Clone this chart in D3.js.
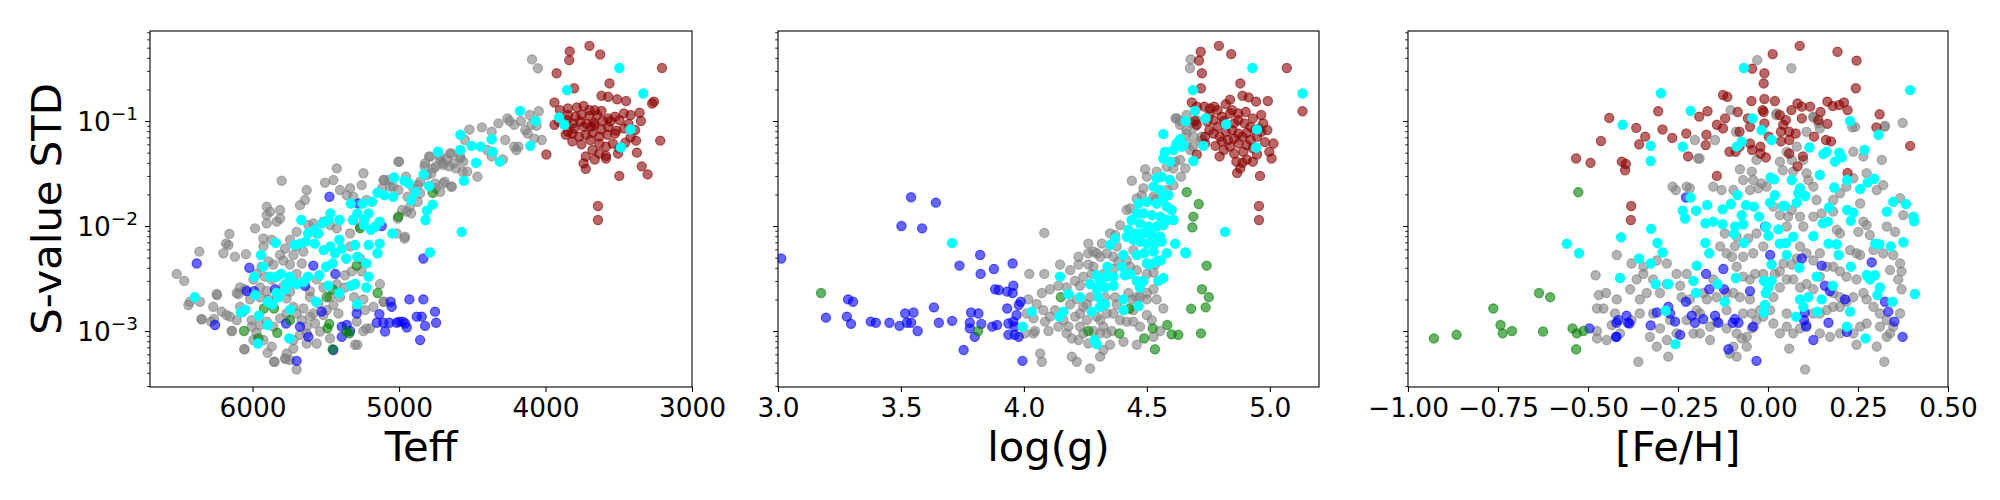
<!DOCTYPE html>
<html>
<head>
<meta charset="utf-8">
<script src="https://cdn.jsdelivr.net/npm/d3@7"></script>
<style>
  body { margin: 0; background: #fff; }
  svg { display: block; font-family: "DejaVu Sans", sans-serif; }
</style>
</head>
<body>
<svg id="chart" width="2000" height="500"></svg>
<script>
// tick values and axis ranges
const teffTicks = [6000, 5000, 4000, 3000];
const loggTicks = [3.0, 3.5, 4.0, 4.5, 5.0];
const fehTicks = [-1.0, -0.75, -0.5, -0.25, 0.0, 0.25, 0.5];
const teffRange = [6700, 3000];
const loggRange = [3.0, 5.2];
const fehRange = [-1.0, 0.5];
const sRange = [2.93e-4, 0.72];

// ---- panel 1: [Teff, S-value STD] ----
const teffGray = [
  [4092,0.386],[4052,0.318],[4046,0.124],[4107,0.114],[4138,0.082],[4098,0.092],[4061,0.09],[4025,0.066],[4077,0.068],[4122,0.076],
  [4184,0.057],[4199,0.053],[4245,0.1],[4260,0.106],[4275,0.066],[4321,0.095],[4367,0.079],[4214,0.092],[4168,0.1],[4434,0.087],
  [4520,0.083],[4550,0.066],[4581,0.046],[4642,0.049],[4673,0.043],[4703,0.04],[4719,0.046],[4795,0.046],[4749,0.037],[4658,0.037],
  [4612,0.0354],[4535,0.033],[4465,0.0295],[4688,0.0264],[4749,0.0229],[4719,0.0212],[4642,0.0237],[4856,0.0205],[4942,0.019],[4872,0.017],
  [4979,0.0142],[4917,0.0132],[4963,0.0076],[5009,0.0118],[5000,0.041],[5070,0.0274],[5101,0.0274],[5116,0.0229],[5040,0.0237],[4291,0.043],
  [4367,0.046],[4398,0.053],[4214,0.057],[4826,0.037],[4780,0.0318],[4566,0.033],[4872,0.0245],
  [5004,0.041],[4788,0.0457],[4720,0.0426],[4652,0.0492],[4583,0.044],[4822,0.0395],[4765,0.0354],[4697,0.0381],[4629,0.0395],[4561,0.041],
  [4952,0.0295],[5107,0.0274],[5004,0.022],[5061,0.0237],[4902,0.0229],[4754,0.0255],[4697,0.0255],[4640,0.0237],[4811,0.0306],[4856,0.0264],
  [4925,0.0153],[4947,0.0137],[4959,0.0079],[5016,0.0085],[5243,0.0318],[5255,0.0245],[5334,0.0229],[5403,0.022],[5357,0.0197],[5312,0.019],
  [5221,0.0177],[5425,0.0354],[5448,0.0274],[5505,0.0259],[5630,0.022],[5642,0.0177],[5676,0.0158],[5801,0.027],[5903,0.0153],[5881,0.0137],
  [5812,0.0142],[5903,0.0127],[5812,0.0118],[5835,0.011],[5903,0.0106],[5983,0.0095],[6158,0.0084],[6181,0.0068],[6165,0.0066],[6199,0.0055],
  [6120,0.0051],[6045,0.0054],[6363,0.0057],[6518,0.0035],[6466,0.003],[6427,0.0019],[6359,0.0019],[6438,0.00177],[6245,0.00225],[6268,0.0017],
  [6211,0.00153],[6347,0.00129],[6283,0.00123],[6142,0.001],[6097,0.00225],[6051,0.0025],[5926,0.0076],[5926,0.0064],[5869,0.0074],[5778,0.0061],
  [5744,0.0074],[5699,0.0088],[5619,0.0102],[5585,0.0106],[5562,0.0085],[5516,0.011],[5471,0.0102],[5425,0.0095],[5334,0.0085],[5266,0.0099],
  [5334,0.0064],[5266,0.0049],[5323,0.0037],[5369,0.0034],[5255,0.0037],[5307,0.0021],[5243,0.002],[5232,0.00158],[5107,0.0019],[5198,0.00106],
  [5243,0.001],[5300,0.00074],[5289,0.00123],[5414,0.00147],[5494,0.00158],[5551,0.00183],[5608,0.0021],[5653,0.00164],[5699,0.00147],[5664,0.00127],
  [5630,0.0011],[5573,0.00118],[5539,0.00099],[5471,0.00085],[5562,0.00076],[5630,0.00076],[5676,0.00092],[5721,0.00082],[5721,0.00068],[5767,0.00061],
  [5744,0.00053],[5699,0.00043],[5778,0.00055],[5853,0.00051],[5897,0.00062],[5869,0.00071],[5926,0.00082],[5994,0.00082],[6056,0.00067],[5972,0.00096],
  [6006,0.0011],[6006,0.00127],[5949,0.00114],[5903,0.00123],[5858,0.0011],[5812,0.00132],[5767,0.00147],[5721,0.0017],[5767,0.00205],[5835,0.0021],
  [5892,0.002],[5949,0.0021],[6017,0.002],[6085,0.0017],[6108,0.00127],[6154,0.00137],[6177,0.00142],[5790,0.00264],[5744,0.00237],[5699,0.0035],
  [5744,0.0043],[5790,0.0047],[5721,0.0053],[5664,0.0044],[5653,0.0057],[5699,0.0064],[5812,0.0053],[5858,0.0043],[5892,0.0046],[5938,0.0041],
  [5972,0.0035],[5915,0.0033],[5869,0.0031],[5835,0.0033],[5949,0.0026],[5903,0.0024],[5994,0.0031],[6085,0.0026],[6108,0.0023],[5562,0.0031],
  [5516,0.0026],[5608,0.0024],[5471,0.0021],[5403,0.0021],[5369,0.0026],[5300,0.0028],[5425,0.0028],[5448,0.00177],[5516,0.00142],[5585,0.00147],
  [5608,0.00137],[5630,0.00095],[5289,0.0017],[5130,0.0028],[5175,0.0017],[6055,0.00067],[5850,0.00051],[5774,0.00054],[5284,0.00074],[5223,0.00106],
  [5101,0.0019],[6141,0.001],[6242,0.0022],[6349,0.0013],[6263,0.0013]
];
const teffBlue = [
  [6381,0.0044],[5475,0.019],[6022,0.004],[5585,0.0042],[5435,0.0035],[5277,0.0164],[5118,0.01],[4834,0.0049],[6040,0.0024],[5847,0.0025],
  [5642,0.0027],[6067,0.00153],[6256,0.00114],[5771,0.00118],[5676,0.0011],[5528,0.00153],[5619,0.00088],[5699,0.00052],[5448,0.00066],[5391,0.0011],
  [5357,0.00114],[5391,0.00088],[5289,0.00147],[5134,0.00145],[5057,0.0019],[5050,0.0017],[4929,0.002],[4834,0.002],[5152,0.0012],[5107,0.0012],
  [5066,0.0012],[5016,0.0012],[4975,0.00123],[4959,0.00118],[4947,0.00108],[5095,0.00099],[4879,0.00137],[4845,0.00137],[4822,0.00112],[4754,0.00153],
  [4747,0.0012],[4856,0.00082],[4998,0.00123],[5990,0.0024],[5334,0.001]
];
const teffGreen = [
  [5289,0.0042],[5146,0.0023],[5453,0.0025],[5494,0.0021],[5922,0.00164],[5853,0.00164],[6058,0.001],[5831,0.00096],[5489,0.00106],[5476,0.00117],
  [5357,0.00099],[5339,0.00095],[5004,0.0123],[4770,0.0207],[5266,0.0095],[5960,0.00085],[5744,0.00127],[5453,0.00067]
];
const teffDarkred = [
  [3700,0.52],[3835,0.46],[3627,0.43],[3838,0.38],[3924,0.285],[3205,0.32],[3804,0.205],[3563,0.228],[3618,0.174],[3572,0.17],
  [3511,0.161],[3450,0.155],[3939,0.15],[3260,0.153],[3272,0.147],[3902,0.127],[3847,0.132],[3786,0.135],[3740,0.139],[3700,0.127],
  [3664,0.127],[3618,0.125],[3847,0.114],[3795,0.11],[3755,0.114],[3700,0.112],[3648,0.114],[3572,0.106],[3526,0.11],[3465,0.118],
  [3419,0.114],[3358,0.12],[3908,0.099],[3853,0.102],[3810,0.095],[3762,0.099],[3719,0.094],[3670,0.096],[3609,0.1],[3557,0.099],
  [3496,0.102],[3434,0.094],[3349,0.1],[3939,0.092],[3847,0.079],[3804,0.085],[3740,0.088],[3688,0.088],[3664,0.092],[3618,0.083],
  [3572,0.088],[3517,0.081],[3465,0.085],[3388,0.082],[3862,0.074],[3817,0.076],[3771,0.071],[3725,0.074],[3679,0.077],[3633,0.071],
  [3578,0.074],[3526,0.076],[3419,0.07],[3817,0.064],[3755,0.06],[3694,0.066],[3633,0.061],[3587,0.057],[3541,0.061],[3496,0.055],
  [3456,0.062],[3382,0.065],[3217,0.065],[3994,0.048],[3725,0.046],[3679,0.053],[3633,0.049],[3587,0.0465],[3505,0.049],[3376,0.05],
  [3740,0.0395],[3725,0.035],[3664,0.043],[3587,0.044],[3343,0.037],[3496,0.03],[3303,0.031],[3642,0.0155],[3642,0.0114]
];
const teffCyan = [
  [3496,0.32],[3333,0.183],[3853,0.197],[4174,0.125],[4067,0.1],[3908,0.108],[3872,0.092],[3419,0.083],[3486,0.056],[4104,0.058],
  [4367,0.067],[4361,0.051],[4312,0.041],[4581,0.074],[4505,0.058],[4443,0.057],[4474,0.04],[4581,0.053],[4734,0.051],[4832,0.031],
  [4557,0.027],[4795,0.024],[4771,0.016],[4810,0.014],[4820,0.0114],[4572,0.0088],[4789,0.0056],[5034,0.029],[4963,0.027],[4933,0.0255],
  [4887,0.021],[4917,0.0177],[5040,0.019],[5101,0.0197],[5147,0.0208],[5184,0.017],[5208,0.0132],[5132,0.011],[5162,0.0099],[5239,0.0102],
  [5239,0.0114],[5193,0.0092],[5046,0.0085],[5132,0.0068],[5147,0.0055],[5208,0.0066],[5223,0.0044],[5248,0.0164],[5284,0.0132],[5315,0.0114],
  [5330,0.0164],[5407,0.0114],[5468,0.0132],[5483,0.0114],[5523,0.0106],[5550,0.0085],[5575,0.0092],[5621,0.0085],[5667,0.0114],[5676,0.0068],
  [5713,0.0066],[5636,0.0071],[5575,0.0068],[5514,0.0059],[5468,0.0064],[5437,0.0055],[5407,0.0074],[5391,0.0061],[5361,0.0049],[5300,0.0066],
  [5284,0.0051],[5453,0.0044],[5498,0.0041],[5544,0.0034],[5621,0.0033],[5651,0.00295],[5697,0.0028],[5743,0.0033],[5774,0.0028],[5804,0.0035],
  [5835,0.0033],[5881,0.0033],[5927,0.0041],[5942,0.0053],[5841,0.0069],[5988,0.0033],[5774,0.0025],[5728,0.0029],[5835,0.0023],[5865,0.0018],
  [5820,0.0021],[5896,0.0019],[5982,0.0022],[6049,0.0016],[6080,0.0015],[5957,0.0014],[5896,0.00114],[5743,0.0016],[5749,0.00085],[5963,0.00076],
  [6394,0.0021],[5407,0.0023],[5300,0.0028],[5223,0.0026],[5208,0.0033],[5284,0.0018],[5566,0.0019],[5483,0.0027],[5330,0.0027]
];

// ---- panel 2: [log(g), S-value STD] ----
const loggGray = [
  [4.622,0.106],[4.662,0.114],[4.635,0.092],[4.683,0.095],[4.703,0.102],[4.662,0.076],[4.689,0.071],[4.723,0.071],[4.717,0.0636],[4.662,0.061],
  [4.676,0.053],[4.635,0.0426],[4.656,0.0354],[4.608,0.0354],[4.615,0.041],[4.581,0.0367],[4.493,0.0347],[4.5,0.0295],[4.54,0.033],[4.439,0.027],
  [4.486,0.0229],[4.608,0.0245],[4.639,0.0295],[4.527,0.019],[4.581,0.022],[4.432,0.0147],[4.418,0.0142],[4.459,0.0183],[4.479,0.0197],[4.391,0.0102],
  [4.371,0.0082],[4.35,0.0085],[4.317,0.0068],[4.296,0.0055],[4.283,0.0057],[4.337,0.0055],[4.364,0.0051],[4.384,0.0046],[4.418,0.0047],[4.432,0.0041],
  [4.459,0.0038],[4.5,0.0035],[4.527,0.0036],[4.534,0.0043],[4.445,0.0059],[4.378,0.0064],[4.31,0.0051],[4.262,0.0068],[4.222,0.0043],[4.262,0.0043],
  [4.147,0.0043],[4.188,0.0038],[4.242,0.0033],[4.208,0.003],[4.174,0.0026],[4.228,0.0027],[4.283,0.0041],[4.14,0.0027],[4.106,0.0025],[4.073,0.0023],
  [4.018,0.002],[4.011,0.00147],[4.039,0.00132],[4.079,0.00158],[4.052,0.0018],[4.086,0.00123],[4.106,0.00137],[4.127,0.00158],[4.14,0.0011],[4.174,0.00095],
  [4.188,0.0018],[4.208,0.00137],[4.228,0.0011],[4.242,0.00095],[4.262,0.00076],[4.222,0.00082],[4.195,0.00085],[4.31,0.00127],[4.323,0.0011],[4.337,0.00095],
  [4.357,0.001],[4.31,0.00095],[4.283,0.001],[4.296,0.00137],[4.256,0.00127],[4.242,0.0017],[4.228,0.00147],[4.337,0.00147],[4.364,0.00147],[4.378,0.0018],
  [4.391,0.00127],[4.418,0.00123],[4.445,0.00123],[4.459,0.0021],[4.5,0.002],[4.54,0.002],[4.567,0.00164],[4.445,0.00158],[4.5,0.00142],[4.52,0.00127],
  [4.554,0.001],[4.527,0.00088],[4.472,0.0011],[4.459,0.00074],[4.405,0.00079],[4.35,0.00074],[4.323,0.00066],[4.31,0.00057],[4.269,0.00044],[4.215,0.00051],
  [4.195,0.00057],[4.066,0.00061],[4.073,0.00051],[4.039,0.00095],[4.005,0.00095],[4.083,0.0086],[4.022,0.0035],[4.083,0.0035],[4.222,0.0051],[4.262,0.0055],
  [4.045,0.001],[4.1,0.001],[4.161,0.00127],[4.181,0.0011],[4.269,0.0021],[4.256,0.0018],[4.215,0.002],[4.33,0.0021],[4.371,0.0021],[4.425,0.0023],
  [4.5,0.0023],[4.527,0.0025],[4.276,0.0035],[4.323,0.0035],[4.364,0.0039],[4.472,0.0021],[4.439,0.002],[4.678,0.386],[4.675,0.318],[4.616,0.106],
  [4.636,0.1],[4.661,0.082],[4.695,0.088],[4.725,0.066],[4.687,0.057],[4.535,0.018]
];
const loggBlue = [
  [3.013,0.0049],[3.541,0.0188],[3.642,0.0167],[3.502,0.01],[3.586,0.0095],[3.822,0.0053],[3.738,0.0042],[3.824,0.0035],[3.878,0.0039],[3.954,0.0044],
  [3.883,0.0025],[3.898,0.00246],[3.932,0.00237],[3.957,0.0027],[3.954,0.0023],[3.285,0.002],[3.305,0.0019],[3.195,0.00134],[3.28,0.00137],[3.297,0.00117],
  [3.377,0.00123],[3.398,0.0012],[3.453,0.0012],[3.494,0.00112],[3.517,0.00147],[3.551,0.0015],[3.524,0.0012],[3.541,0.0012],[3.568,0.001],[3.634,0.00168],
  [3.654,0.0012],[3.708,0.00125],[3.785,0.0015],[3.815,0.00147],[3.78,0.0012],[3.78,0.00106],[3.827,0.00117],[3.8,0.00088],[3.871,0.0011],[3.891,0.00114],
  [3.932,0.00164],[3.979,0.00177],[3.987,0.0019],[3.97,0.00142],[3.937,0.00118],[3.957,0.00123],[3.962,0.00092],[3.979,0.00088],[3.755,0.00066],[3.994,0.00052],
  [3.937,0.00092],[3.962,0.0011]
];
const loggGreen = [
  [3.175,0.0023],[3.814,0.001],[4.662,0.021],[4.711,0.0162],[4.689,0.0123],[4.685,0.0097],[4.743,0.0042],[4.724,0.0025],[4.752,0.0021],[4.68,0.00163],
  [4.739,0.00168],[4.583,0.00114],[4.601,0.00093],[4.628,0.00092],[4.72,0.00095],[4.524,0.00106],[4.489,0.00085],[4.533,0.00067],[4.388,0.00095],[4.429,0.00163],
  [4.262,0.001],[4.15,0.0021]
];
const loggDarkred = [
  [4.793,0.52],[4.719,0.457],[4.843,0.434],[4.712,0.376],[4.724,0.285],[5.069,0.32],[4.72,0.205],[4.88,0.228],[4.889,0.174],[4.914,0.168],
  [4.944,0.153],[4.992,0.155],[4.683,0.15],[5.133,0.124],[4.703,0.137],[4.734,0.137],[4.757,0.132],[4.788,0.127],[4.821,0.145],[4.847,0.127],
  [4.872,0.118],[4.902,0.122],[4.931,0.106],[4.973,0.095],[4.703,0.092],[4.746,0.099],[4.771,0.102],[4.805,0.11],[4.838,0.118],[4.872,0.102],
  [4.897,0.095],[4.922,0.088],[4.956,0.085],[4.99,0.082],[4.771,0.076],[4.796,0.071],[4.821,0.079],[4.847,0.082],[4.872,0.076],[4.889,0.071],
  [4.906,0.077],[4.948,0.071],[5.015,0.061],[4.737,0.061],[4.779,0.058],[4.805,0.064],[4.838,0.057],[4.872,0.061],[4.906,0.059],[4.931,0.055],
  [4.998,0.051],[5.007,0.044],[4.703,0.048],[4.796,0.046],[4.855,0.049],[4.889,0.04],[4.906,0.043],[4.931,0.041],[4.88,0.0354],[4.867,0.032],
  [4.96,0.03],[4.956,0.0155],[4.956,0.0114],[4.754,0.114],[4.813,0.1],[4.855,0.095],[4.83,0.066],[4.855,0.068],[4.922,0.066],[4.813,0.053],
  [4.948,0.048],[4.754,0.082],[4.695,0.1],[4.965,0.114],[4.838,0.16],[4.864,0.041],[4.737,0.071],[4.94,0.082],[4.98,0.063],[4.788,0.088],
  [4.892,0.051],[4.774,0.137],[4.965,0.079]
];
const loggCyan = [
  [4.696,0.125],[4.739,0.106],[4.658,0.1],[4.823,0.093],[4.948,0.083],[4.944,0.056],[4.567,0.075],[4.73,0.058],[4.689,0.0416],[4.635,0.067],
  [4.621,0.061],[4.649,0.059],[4.608,0.053],[4.574,0.051],[4.567,0.044],[4.594,0.041],[4.642,0.057],[4.54,0.0285],[4.56,0.0295],[4.594,0.0274],
  [4.527,0.0237],[4.554,0.022],[4.567,0.0183],[4.588,0.0197],[4.466,0.0164],[4.5,0.017],[4.54,0.0164],[4.581,0.0153],[4.601,0.0142],[4.459,0.0132],
  [4.486,0.0132],[4.52,0.0127],[4.554,0.0123],[4.581,0.0114],[4.608,0.0114],[4.438,0.0114],[4.472,0.0106],[4.506,0.0099],[4.54,0.0099],[4.567,0.0102],
  [4.425,0.0092],[4.459,0.0085],[4.486,0.0085],[4.52,0.0082],[4.554,0.0079],[4.418,0.0079],[4.445,0.0074],[4.472,0.0071],[4.5,0.0068],[4.533,0.0068],
  [4.56,0.0071],[4.371,0.0076],[4.35,0.0066],[4.405,0.0053],[4.459,0.0053],[4.489,0.0055],[4.527,0.0057],[4.556,0.0047],[4.581,0.0055],[4.615,0.0068],
  [4.659,0.0055],[4.818,0.0088],[4.398,0.0041],[4.34,0.0041],[4.296,0.0034],[4.337,0.0033],[4.364,0.0033],[4.31,0.003],[4.269,0.0028],[4.296,0.0025],
  [4.33,0.0026],[4.364,0.0027],[4.411,0.0034],[4.434,0.0035],[4.459,0.003],[4.472,0.0026],[4.486,0.003],[4.547,0.003],[4.567,0.0032],[4.303,0.0021],
  [4.33,0.0018],[4.31,0.0017],[4.276,0.00153],[4.228,0.0021],[4.181,0.00225],[4.147,0.0033],[4.161,0.00153],[4.144,0.00137],[4.032,0.00153],[3.995,0.0011],
  [4.405,0.002],[4.405,0.00158],[4.466,0.00173],[4.287,0.00082],[4.296,0.00075],[4.5,0.0044],[4.513,0.0043],[4.54,0.0046],[4.929,0.32],[5.133,0.183],
  [4.687,0.197],[4.656,0.0056],[3.708,0.0069]
];

// ---- panel 3: [[Fe/H], S-value STD] ----
const fehGray = [
  [0.024,0.118],[0.126,0.11],[0.14,0.095],[0.107,0.079],[0.144,0.085],[0.242,0.088],[0.325,0.09],[0.374,0.096],[0.316,0.0426],[0.237,0.051],
  [0.265,0.046],[0.08,0.057],[0.052,0.051],[0.033,0.041],[0.066,0.0426],[0.098,0.0426],[0.107,0.0318],[0.07,0.033],[0.041,0.034],[-0.032,0.0426],
  [-0.045,0.033],[-0.078,0.0347],[-0.069,0.0274],[-0.041,0.0274],[-0.018,0.0255],[-0.05,0.022],[-0.027,0.0229],[-0.004,0.0237],[-0.096,0.022],[-0.129,0.022],
  [-0.152,0.0237],[-0.217,0.0229],[-0.265,0.0237],[-0.256,0.022],[-0.226,0.0237],[-0.194,0.044],[-0.147,0.066],[-0.203,0.066],[-0.089,0.079],[0.015,0.0153],
  [0.033,0.0127],[0.056,0.0123],[0.066,0.0142],[0.052,0.0099],[0.089,0.0123],[0.098,0.0099],[0.126,0.0123],[0.149,0.0132],[0.135,0.0177],[0.126,0.0237],
  [0.112,0.0274],[0.2,0.0205],[0.218,0.0237],[0.237,0.0285],[0.274,0.0318],[0.302,0.022],[0.32,0.0245],[0.367,0.0184],[0.376,0.0127],[0.353,0.0088],
  [0.33,0.0099],[0.274,0.0102],[0.256,0.0164],[0.181,0.0177],[0.181,0.0137],[0.191,0.0092],[0.2,0.0085],[0.251,0.0088],[0.265,0.011],[0.283,0.0082],
  [0.293,0.0059],[0.32,0.0055],[0.348,0.0053],[0.367,0.0044],[0.371,0.0037],[0.339,0.0038],[0.256,0.0053],[0.246,0.0055],[0.228,0.0059],[0.144,0.0055],
  [0.126,0.0047],[0.107,0.0055],[0.089,0.0064],[0.08,0.0049],[0.066,0.0043],[0.043,0.0044],[0.033,0.0037],[0.019,0.0035],[-0.013,0.0035],[-0.036,0.0035],
  [-0.05,0.0031],[-0.069,0.0033],[-0.087,0.0041],[-0.1,0.0051],[-0.115,0.0055],[-0.092,0.0064],[-0.069,0.0051],[-0.041,0.0055],[-0.013,0.0064],[-0.032,0.0085],
  [-0.055,0.0076],[-0.087,0.0079],[-0.12,0.0085],[-0.133,0.0064],[-0.152,0.0031],[-0.18,0.0023],[-0.217,0.002],[-0.24,0.0021],[-0.244,0.0027],[-0.226,0.0035],
  [-0.254,0.0035],[-0.281,0.0044],[-0.309,0.0047],[-0.346,0.0035],[-0.365,0.0031],[-0.383,0.0025],[-0.42,0.002],[-0.425,0.00147],[-0.434,0.00114],[-0.448,0.00082],
  [-0.411,0.00095],[-0.379,0.00127],[-0.356,0.00147],[-0.319,0.00147],[-0.3,0.00106],[-0.328,0.00088],[-0.281,0.00082],[-0.226,0.00127],[-0.207,0.00095],[-0.189,0.00095],
  [-0.161,0.0011],[-0.143,0.00123],[-0.115,0.00106],[-0.087,0.00095],[-0.073,0.00085],[-0.059,0.00088],[-0.045,0.00106],[-0.032,0.00127],[-0.013,0.00137],[0.015,0.00118],
  [0.033,0.00095],[0.052,0.0011],[0.07,0.00095],[0.089,0.00106],[0.107,0.00114],[0.126,0.00147],[0.144,0.00147],[0.163,0.00158],[0.181,0.0017],[0.2,0.0017],
  [0.218,0.0019],[0.237,0.0021],[0.265,0.0023],[0.274,0.002],[0.293,0.0017],[0.311,0.00147],[0.33,0.00127],[0.348,0.0011],[0.367,0.00147],[0.371,0.0025],
  [0.362,0.0031],[0.339,0.00095],[0.311,0.0011],[0.274,0.00118],[0.256,0.0011],[0.237,0.00095],[0.2,0.00095],[0.172,0.00088],[0.144,0.00095],[0.052,0.00147],
  [0.006,0.00158],[-0.022,0.00158],[-0.045,0.00147],[-0.069,0.00147],[-0.096,0.00071],[-0.087,0.00057],[-0.106,0.00061],[-0.059,0.00071],[-0.161,0.00082],[-0.189,0.00147],
  [-0.115,0.00158],[-0.17,0.002],[-0.198,0.00158],[-0.272,0.00127],[-0.254,0.00095],[0.015,0.0021],[0.033,0.0026],[0.052,0.0031],[0.07,0.0031],[0.089,0.0026],
  [0.107,0.0028],[0.126,0.0025],[0.181,0.0041],[0.2,0.0037],[0.218,0.0033],[0.246,0.0031],[0.181,0.0023],[0.2,0.0021],[0.163,0.0041],[0.144,0.0033],
  [-0.05,0.002],[-0.078,0.0021],[-0.096,0.0023],[-0.115,0.0023],[-0.143,0.0021],[-0.319,0.0031],[-0.3,0.0023],[-0.281,0.0028],[-0.356,0.002],[-0.337,0.0023],
  [-0.42,0.0053],[-0.379,0.0044],[-0.346,0.0041],[-0.45,0.0023],[-0.457,0.00164],[-0.36,0.00051],[-0.277,0.00057],[-0.309,0.00071],[0.059,0.00068],[0.103,0.00043],
  [0.246,0.00074],[0.323,0.00051],[0.33,0.00088],[0.302,0.00071],[-0.479,0.0034],[-0.475,0.00164],[-0.475,0.001],[-0.475,0.00085],[-0.47,0.0022],[-0.03,0.38],
  [0.065,0.318],[-0.104,0.127],[0.023,0.114],[0.324,0.088],[0.234,0.087],[0.126,0.108],[-0.19,0.044]
];
const fehBlue = [
  [-0.228,0.0187],[-0.008,0.0099],[0.006,0.0053],[0.094,0.0049],[0.149,0.0042],[0.288,0.0045],[-0.124,0.0039],[-0.172,0.0035],[-0.163,0.0025],[-0.122,0.0025],
  [-0.05,0.0024],[-0.228,0.0019],[-0.277,0.0017],[-0.272,0.00147],[-0.258,0.00123],[-0.309,0.0015],[-0.416,0.00127],[-0.393,0.0014],[-0.385,0.00118],[-0.326,0.00113],
  [-0.244,0.00092],[-0.422,0.00088],[-0.212,0.0014],[-0.203,0.0012],[-0.18,0.0013],[-0.147,0.0014],[-0.138,0.0012],[-0.098,0.0012],[-0.082,0.0012],[-0.11,0.00067],
  [-0.092,0.0013],[-0.041,0.0011],[-0.032,0.00052],[0.158,0.0027],[0.172,0.0024],[0.1,0.00127],[0.106,0.0011],[0.126,0.00082],[0.168,0.0012],[0.214,0.002],
  [0.219,0.00098],[0.325,0.0019],[0.334,0.00153],[0.351,0.00123],[0.374,0.00088],[0.102,0.0015],[-0.496,0.00106],[-0.421,0.0012],[-0.421,0.00088],[-0.389,0.0012]
];
const fehGreen = [
  [-0.527,0.021],[-0.636,0.0023],[-0.605,0.0021],[-0.763,0.00164],[-0.743,0.00114],[-0.737,0.00095],[-0.711,0.001],[-0.625,0.00099],[-0.543,0.00106],[-0.531,0.00095],
  [-0.513,0.001],[-0.533,0.00067],[-0.928,0.00085],[-0.865,0.00092]
];
const fehDarkred = [
  [0.088,0.52],[0.013,0.434],[0.193,0.457],[0.246,0.376],[-0.044,0.315],[-0.01,0.285],[-0.012,0.228],[0.244,0.205],[-0.441,0.107],[-0.305,0.124],
  [-0.464,0.0645],[-0.533,0.044],[-0.493,0.04],[-0.406,0.041],[-0.395,0.039],[-0.397,0.034],[-0.38,0.0155],[-0.381,0.0114],[-0.366,0.086],[-0.341,0.071],
  [-0.358,0.06],[-0.293,0.083],[-0.266,0.069],[-0.227,0.076],[-0.222,0.046],[-0.171,0.074],[-0.173,0.059],[-0.168,0.124],[-0.191,0.11],[-0.125,0.177],
  [-0.113,0.17],[-0.142,0.092],[-0.119,0.106],[-0.125,0.085],[-0.084,0.122],[-0.056,0.106],[-0.046,0.155],[-0.01,0.162],[0.019,0.155],[-0.015,0.127],
  [-0.012,0.122],[-0.05,0.088],[-0.079,0.079],[-0.01,0.095],[0.033,0.114],[0.05,0.102],[0.065,0.127],[0.082,0.147],[0.094,0.137],[0.042,0.092],
  [0.059,0.079],[0.077,0.076],[0.117,0.137],[0.146,0.122],[0.165,0.153],[0.18,0.139],[0.198,0.142],[0.211,0.15],[0.221,0.127],[0.165,0.094],
  [0.128,0.071],[0.161,0.066],[0.175,0.064],[0.31,0.116],[0.301,0.087],[0.395,0.058],[0.221,0.032],[-0.142,0.03],[0.082,0.037],[0.097,0.046],
  [0.059,0.049],[-0.021,0.049],[-0.006,0.045],[-0.044,0.053],[-0.09,0.051],[-0.05,0.061],[-0.021,0.057],[0.036,0.064],[0.059,0.066],[-0.107,0.051],
  [-0.079,0.057],[0.094,0.106],[0.002,0.071],[0.14,0.102],[0.036,0.079]
];
const fehCyan = [
  [-0.297,0.184],[-0.215,0.125],[-0.043,0.106],[-0.018,0.082],[0.01,0.066],[-0.087,0.057],[-0.073,0.0636],[-0.237,0.057],[-0.326,0.058],[-0.326,0.0416],
  [-0.404,0.092],[0.228,0.1],[0.307,0.074],[0.115,0.056],[0.154,0.0485],[0.163,0.051],[0.198,0.05],[0.186,0.041],[0.205,0.045],[0.268,0.053],
  [0.395,0.197],[0.007,0.029],[0.017,0.0278],[0.066,0.0274],[0.144,0.0306],[0.22,0.0274],[0.184,0.0233],[0.256,0.0225],[0.277,0.0259],[0.295,0.0282],
  [0.089,0.0229],[0.084,0.0205],[0.103,0.0193],[-0.085,0.0197],[0.019,0.0197],[0.006,0.0167],[0.041,0.0155],[0.047,0.0155],[0.08,0.0167],[-0.215,0.0187],
  [-0.169,0.0158],[-0.126,0.0144],[-0.103,0.0162],[-0.061,0.0158],[-0.039,0.0153],[-0.073,0.0127],[-0.025,0.0123],[-0.237,0.014],[-0.23,0.0118],[-0.2,0.014],
  [-0.174,0.0106],[-0.152,0.011],[-0.126,0.0104],[-0.091,0.0099],[-0.069,0.0104],[-0.094,0.0084],[-0.067,0.0069],[-0.325,0.0094],[-0.408,0.0078],[-0.307,0.0069],
  [-0.293,0.0056],[-0.174,0.0069],[-0.163,0.0055],[-0.006,0.0099],[0.001,0.0081],[0.029,0.0093],[0.126,0.008],[0.152,0.0106],[0.166,0.011],[0.17,0.015],
  [0.22,0.0142],[0.237,0.0134],[0.23,0.0112],[0.33,0.0137],[0.348,0.017],[0.383,0.0162],[0.404,0.0123],[0.406,0.0111],[0.298,0.0068],[0.309,0.0067],
  [0.341,0.0064],[0.376,0.007],[0.168,0.0068],[0.191,0.0067],[0.196,0.0053],[0.033,0.0068],[0.05,0.0069],[0.07,0.0079],[0.052,0.0053],[0.087,0.004],
  [0.01,0.0043],[-0.198,0.0042],[-0.089,0.0032],[-0.14,0.0028],[-0.207,0.003],[-0.2,0.0023],[-0.277,0.0028],[-0.312,0.0028],[-0.358,0.0049],[-0.326,0.0044],
  [-0.411,0.0032],[-0.011,0.003],[0.001,0.0026],[0.01,0.003],[-0.006,0.0023],[0.135,0.0033],[0.18,0.0027],[0.23,0.0041],[0.274,0.0034],[0.297,0.0034],
  [0.283,0.0031],[0.311,0.0026],[0.304,0.0022],[0.408,0.00225],[0.346,0.0019],[0.089,0.002],[0.112,0.0021],[0.149,0.002],[0.098,0.0017],[0.137,0.00153],
  [0.228,0.00153],[0.219,0.0011],[-0.008,0.00177],[-0.011,0.0015],[0.078,0.00137],[-0.12,0.0019],[-0.284,0.00156],[-0.257,0.00075],[0.271,0.00085],[-0.067,0.32],
  [-0.559,0.0068],[-0.525,0.0055]
];

// draw order and styles follow the reference: gray under, cyan on top
const GROUPS = [
  { key: "gray", color: "#808080", alpha: 0.6 },
  { key: "blue", color: "#0000ff", alpha: 0.6 },
  { key: "green", color: "#008000", alpha: 0.6 },
  { key: "darkred", color: "#8b0000", alpha: 0.6 },
  { key: "cyan", color: "#00ffff", alpha: 1.0 },
];

const PANELS = [
  { label: "Teff", range: teffRange, ticks: teffTicks, format: d3.format("d"), left: 150, right: 692,
    series: { gray: teffGray, blue: teffBlue, green: teffGreen, darkred: teffDarkred, cyan: teffCyan } },
  { label: "log(g)", range: loggRange, ticks: loggTicks, format: d3.format(".1f"), left: 778, right: 1319,
    series: { gray: loggGray, blue: loggBlue, green: loggGreen, darkred: loggDarkred, cyan: loggCyan } },
  { label: "[Fe/H]", range: fehRange, ticks: fehTicks, format: d3.format(".2f"), left: 1408, right: 1948,
    series: { gray: fehGray, blue: fehBlue, green: fehGreen, darkred: fehDarkred, cyan: fehCyan } },
];

const TOP = 31;
const BOTTOM = 387;
const TICK_FONT = 26.4;
const LABEL_FONT = 41.7;
const MARKER_R = 4.6;

const svg = d3.select("#chart");

const y = d3.scaleLog().domain(sRange).range([BOTTOM, TOP]);
const yAll = y.ticks().filter((v) => v >= sRange[0] && v <= sRange[1]);
const isDecade = (v) => Math.abs(Math.log10(v) - Math.round(Math.log10(v))) < 1e-9;
const yMajor = yAll.filter(isDecade);
const yMinor = yAll.filter((v) => !isDecade(v));

PANELS.forEach((panel, i) => {
  const x = d3.scaleLinear().domain(panel.range).range([panel.left, panel.right]);
  const g = svg.append("g");

  const clipId = `clip-${i}`;
  svg.append("clipPath").attr("id", clipId)
    .append("rect")
    .attr("x", panel.left).attr("y", TOP)
    .attr("width", panel.right - panel.left).attr("height", BOTTOM - TOP);

  const pts = g.append("g").attr("clip-path", `url(#${clipId})`);
  GROUPS.forEach((grp) => {
    pts.append("g")
      .selectAll("circle")
      .data(panel.series[grp.key])
      .enter()
      .append("circle")
      .attr("cx", (d) => x(d[0]))
      .attr("cy", (d) => y(d[1]))
      .attr("r", MARKER_R)
      .attr("fill", grp.color)
      .attr("fill-opacity", grp.alpha)
      .attr("stroke", grp.color)
      .attr("stroke-opacity", grp.alpha)
      .attr("stroke-width", 1.2);
  });

  // x axis
  const xAxis = g.append("g")
    .attr("transform", `translate(0,${BOTTOM})`)
    .call(d3.axisBottom(x).tickValues(panel.ticks).tickFormat(panel.format)
      .tickSize(4.9).tickSizeOuter(0).tickPadding(6.6));
  xAxis.select(".domain").remove();
  xAxis.selectAll("line").attr("stroke", "#000").attr("stroke-width", 1.1);
  xAxis.selectAll("text")
    .attr("fill", "#000")
    .style("font-family", "'DejaVu Sans', sans-serif")
    .style("font-size", `${TICK_FONT}px`);

  // y axis, major and minor ticks
  const yMaj = g.append("g")
    .attr("transform", `translate(${panel.left},0)`)
    .call(d3.axisLeft(y).tickValues(yMajor).tickFormat("").tickSize(4.9).tickSizeOuter(0));
  yMaj.select(".domain").remove();
  yMaj.selectAll("line").attr("stroke", "#000").attr("stroke-width", 1.1);

  const yMin = g.append("g")
    .attr("transform", `translate(${panel.left},0)`)
    .call(d3.axisLeft(y).tickValues(yMinor).tickFormat("").tickSize(2.8).tickSizeOuter(0));
  yMin.select(".domain").remove();
  yMin.selectAll("line").attr("stroke", "#000").attr("stroke-width", 0.85);

  if (i === 0) {
    yMajor.forEach((v) => {
      const t = g.append("text")
        .attr("x", panel.left - 12)
        .attr("y", y(v) + 10)
        .attr("text-anchor", "end")
        .style("font-size", `${TICK_FONT}px`)
        .attr("fill", "#000");
      t.append("tspan").text("10");
      t.append("tspan")
        .attr("dy", -11.5)
        .style("font-size", "18.5px")
        .text(`\u2212${Math.abs(Math.round(Math.log10(v)))}`);
    });

    g.append("text")
      .attr("transform", `translate(61,${(TOP + BOTTOM) / 2}) rotate(-90)`)
      .attr("text-anchor", "middle")
      .style("font-size", `${LABEL_FONT}px`)
      .attr("fill", "#000")
      .text("S-value STD");
  }

  // frame on top of the points
  g.append("rect")
    .attr("x", panel.left).attr("y", TOP)
    .attr("width", panel.right - panel.left).attr("height", BOTTOM - TOP)
    .attr("fill", "none").attr("stroke", "#000").attr("stroke-width", 1.1);

  g.append("text")
    .attr("x", (panel.left + panel.right) / 2)
    .attr("y", 461)
    .attr("text-anchor", "middle")
    .style("font-size", `${LABEL_FONT}px`)
    .attr("fill", "#000")
    .text(panel.label);
});
</script>
</body>
</html>
